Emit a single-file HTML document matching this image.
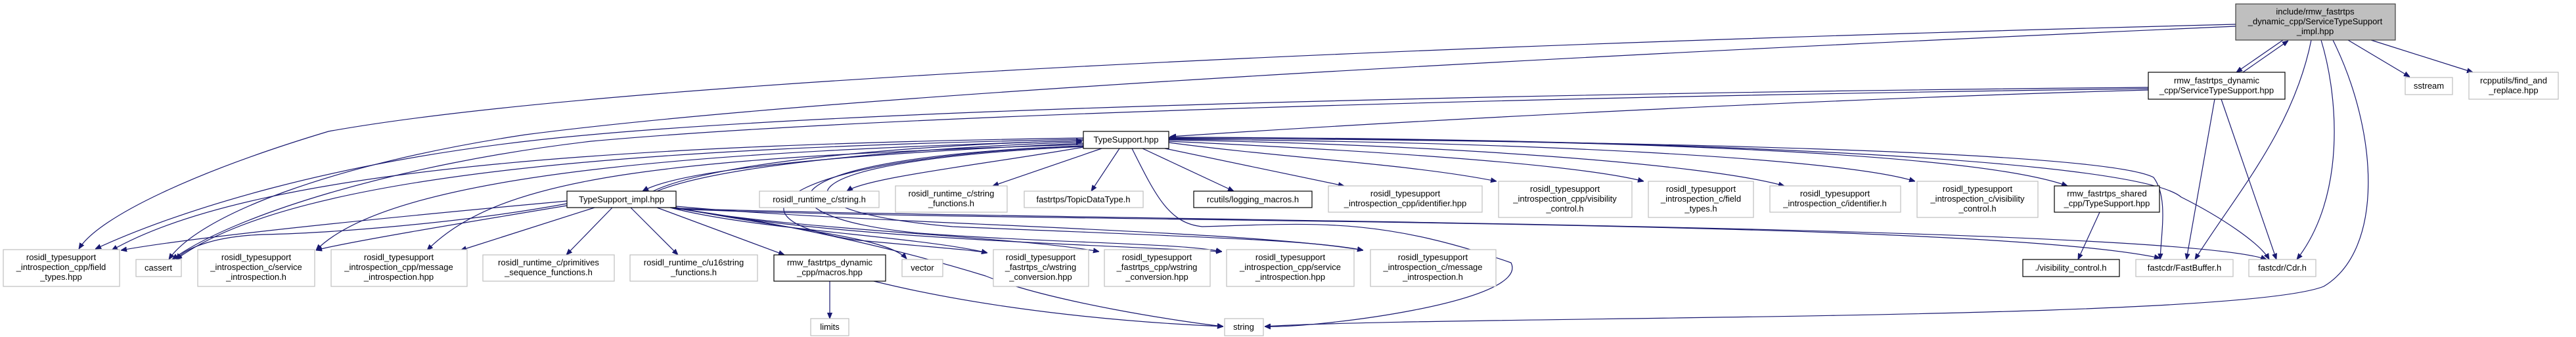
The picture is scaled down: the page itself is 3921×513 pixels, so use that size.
<!DOCTYPE html>
<html><head><meta charset="utf-8"><style>
html,body{margin:0;padding:0;background:#fff;}
svg{display:block;}
text{font-family:"Liberation Sans",sans-serif;font-size:13px;fill:#000;text-anchor:middle;}
.e{fill:none;stroke:#191970;stroke-width:1.2;marker-end:url(#a);}
.g{fill:#fff;stroke:#bfbfbf;stroke-width:1.2;}
.b{fill:#fff;stroke:#000;stroke-width:1.2;}
</style></head><body>
<svg width="3921" height="513" viewBox="0 0 3921 513" xmlns="http://www.w3.org/2000/svg">
<defs><marker id="a" viewBox="0 0 10 10" refX="10" refY="5" markerWidth="9" markerHeight="9" markerUnits="userSpaceOnUse" orient="auto"><path d="M0,1 L10,5 L0,9 z" fill="#191970" stroke="#191970"/></marker></defs>

<!-- edges -->
<path class="e" d="M3475 61 L3404 110"/>
<path class="e" d="M3414 110 L3483 62"/>
<path class="e" d="M3574 61 L3668 117"/>
<path class="e" d="M3609 61 L3764 110"/>
<path class="e" d="M3518 61 C3490 200 3400 300 3341 395"/>
<path class="e" d="M3533 61 C3560 150 3570 300 3496 395"/>
<path class="e" d="M3551 61 C3620 200 3630 380 3537 436 C3400 490 2200 480 1925 497"/>
<path class="e" d="M3403 37 C2500 60 1000 110 500 200 C300 260 150 330 120 379"/>
<path class="e" d="M3403 40 C2500 80 1300 140 800 205 C500 250 300 330 257 395"/>
<path class="e" d="M3270 137 C2800 150 2200 180 1781 208"/>
<path class="e" d="M3270 133 C2500 140 1400 160 900 205 C500 240 250 330 145 379"/>
<path class="e" d="M3270 135 C2500 145 1400 170 900 215 C600 250 350 330 262 395"/>
<path class="e" d="M3371 151 L3328 395"/>
<path class="e" d="M3381 151 L3465 395"/>
<path class="e" d="M1649 218 C1400 230 1050 250 978 291"/>
<path class="e" d="M1000 291 C1100 250 1400 225 1647 216"/>
<path class="e" d="M994 291 C1090 245 1400 220 1647 214"/>
<path class="e" d="M1649 224 C1500 250 1320 270 1289 291"/>
<path class="e" d="M1677 226 L1511 283"/>
<path class="e" d="M1704 226 L1661 291"/>
<path class="e" d="M1739 226 L1878 291"/>
<path class="e" d="M1773 226 L2046 283"/>
<path class="e" d="M1779 217 C1950 240 2150 250 2278 276"/>
<path class="e" d="M1779 215 C2100 230 2400 250 2502 276"/>
<path class="e" d="M1779 213 C2200 220 2600 250 2716 283"/>
<path class="e" d="M1779 212 C2300 215 2800 240 2915 276"/>
<path class="e" d="M1779 211 C2400 210 3000 230 3147 283"/>
<path class="e" d="M1779 210 C2500 215 3200 230 3278 270 C3300 300 3290 350 3288 395"/>
<path class="e" d="M1779 209 C2500 210 3250 240 3320 300 C3380 330 3440 370 3454 395"/>
<path class="e" d="M1723 226 C1760 300 1780 340 1830 345 C2000 340 2100 330 2300 400 C2330 460 2000 500 1925 497"/>
<path class="e" d="M1649 210 C1000 220 400 250 170 381"/>
<path class="e" d="M1649 212 C1000 225 450 260 268 395"/>
<path class="e" d="M1649 214 C1100 230 600 260 481 381"/>
<path class="e" d="M1649 220 C1000 240 760 270 650 381"/>
<path class="e" d="M1649 222 C1200 240 1080 330 1300 365 C1400 375 1480 380 1503 385"/>
<path class="e" d="M1649 222 C1150 240 1140 330 1400 355 C1600 370 1800 370 1860 383"/>
<path class="e" d="M1649 223 C1180 245 1160 320 1450 345 C1800 360 2000 365 2075 381"/>
<path class="e" d="M863 306 C600 330 300 360 184 381"/>
<path class="e" d="M863 310 C700 340 500 355 400 357 C320 360 280 380 268 395"/>
<path class="e" d="M863 313 C700 340 520 370 481 381"/>
<path class="e" d="M905 316 L701 381"/>
<path class="e" d="M932 316 L862 388"/>
<path class="e" d="M960 316 L1032 388"/>
<path class="e" d="M1000 316 L1194 388"/>
<path class="e" d="M1029 316 C1200 350 1350 360 1380 394"/>
<path class="e" d="M1020 316 C1150 350 1400 360 1503 385"/>
<path class="e" d="M1025 316 C1200 350 1550 360 1673 383"/>
<path class="e" d="M1029 316 C1250 360 1600 370 1860 383"/>
<path class="e" d="M1029 314 C1300 340 1900 350 2075 381"/>
<path class="e" d="M1029 318 C1500 340 3000 330 3288 393"/>
<path class="e" d="M1029 317 C1500 335 3300 340 3450 395"/>
<path class="e" d="M1020 316 C1200 340 1370 380 1500 420 C1600 460 1800 490 1862 497"/>
<path class="e" d="M1263 428 L1263 485"/>
<path class="e" d="M1330 428 C1500 470 1700 490 1862 497"/>
<path class="e" d="M3196 323 L3163 395"/>

<!-- nodes -->
<rect x="3403" y="6" width="243" height="55" fill="#bfbfbf" stroke="#404040" stroke-width="1.2"/>
<text x="3524" y="22">include/rmw_fastrtps</text><text x="3524" y="37">_dynamic_cpp/ServiceTypeSupport</text><text x="3524" y="52">_impl.hpp</text>

<rect class="b" x="3270" y="110" width="208" height="41"/>
<text x="3374" y="127">rmw_fastrtps_dynamic</text><text x="3374" y="142">_cpp/ServiceTypeSupport.hpp</text>
<rect class="g" x="3661" y="118" width="72" height="26"/><text x="3697" y="135">sstream</text>
<rect class="g" x="3758" y="110" width="136" height="41"/>
<text x="3826" y="127">rcpputils/find_and</text><text x="3826" y="142">_replace.hpp</text>

<rect class="b" x="1649" y="200" width="130" height="26"/><text x="1714" y="217">TypeSupport.hpp</text>
<rect class="b" x="863" y="291" width="166" height="25"/><text x="946" y="308">TypeSupport_impl.hpp</text>

<rect class="g" x="1156" y="291" width="182" height="25"/><text x="1247" y="308">rosidl_runtime_c/string.h</text>
<rect class="g" x="1363" y="283" width="170" height="40"/><text x="1448" y="299">rosidl_runtime_c/string</text><text x="1448" y="314">_functions.h</text>
<rect class="g" x="1559" y="291" width="181" height="25"/><text x="1649" y="308">fastrtps/TopicDataType.h</text>
<rect class="b" x="1817" y="291" width="180" height="25"/><text x="1907" y="308">rcutils/logging_macros.h</text>
<rect class="g" x="2022" y="283" width="234" height="40"/><text x="2139" y="299">rosidl_typesupport</text><text x="2139" y="314">_introspection_cpp/identifier.hpp</text>
<rect class="g" x="2281" y="276" width="203" height="55"/><text x="2382" y="292">rosidl_typesupport</text><text x="2382" y="307">_introspection_cpp/visibility</text><text x="2382" y="322">_control.h</text>
<rect class="g" x="2509" y="276" width="160" height="55"/><text x="2589" y="292">rosidl_typesupport</text><text x="2589" y="307">_introspection_c/field</text><text x="2589" y="322">_types.h</text>
<rect class="g" x="2694" y="283" width="199" height="40"/><text x="2793" y="299">rosidl_typesupport</text><text x="2793" y="314">_introspection_c/identifier.h</text>
<rect class="g" x="2918" y="276" width="184" height="55"/><text x="3010" y="292">rosidl_typesupport</text><text x="3010" y="307">_introspection_c/visibility</text><text x="3010" y="322">_control.h</text>
<rect class="b" x="3127" y="283" width="160" height="40"/><text x="3207" y="299">rmw_fastrtps_shared</text><text x="3207" y="314">_cpp/TypeSupport.hpp</text>

<rect class="g" x="5" y="380" width="177" height="56"/><text x="93" y="396">rosidl_typesupport</text><text x="93" y="411">_introspection_cpp/field</text><text x="93" y="426">_types.hpp</text>
<rect class="g" x="207" y="395" width="69" height="26"/><text x="241" y="412">cassert</text>
<rect class="g" x="301" y="380" width="178" height="56"/><text x="390" y="396">rosidl_typesupport</text><text x="390" y="411">_introspection_c/service</text><text x="390" y="426">_introspection.h</text>
<rect class="g" x="504" y="380" width="207" height="56"/><text x="607" y="396">rosidl_typesupport</text><text x="607" y="411">_introspection_cpp/message</text><text x="607" y="426">_introspection.hpp</text>
<rect class="g" x="735" y="388" width="200" height="40"/><text x="835" y="404">rosidl_runtime_c/primitives</text><text x="835" y="419">_sequence_functions.h</text>
<rect class="g" x="959" y="388" width="194" height="40"/><text x="1056" y="404">rosidl_runtime_c/u16string</text><text x="1056" y="419">_functions.h</text>
<rect class="b" x="1178" y="388" width="170" height="40"/><text x="1263" y="404">rmw_fastrtps_dynamic</text><text x="1263" y="419">_cpp/macros.hpp</text>
<rect class="g" x="1373" y="395" width="62" height="26"/><text x="1404" y="412">vector</text>
<rect class="g" x="1512" y="380" width="145" height="56"/><text x="1584" y="396">rosidl_typesupport</text><text x="1584" y="411">_fastrtps_c/wstring</text><text x="1584" y="426">_conversion.hpp</text>
<rect class="g" x="1681" y="380" width="161" height="56"/><text x="1761" y="396">rosidl_typesupport</text><text x="1761" y="411">_fastrtps_cpp/wstring</text><text x="1761" y="426">_conversion.hpp</text>
<rect class="g" x="1867" y="380" width="194" height="56"/><text x="1964" y="396">rosidl_typesupport</text><text x="1964" y="411">_introspection_cpp/service</text><text x="1964" y="426">_introspection.hpp</text>
<rect class="g" x="2086" y="380" width="191" height="56"/><text x="2181" y="396">rosidl_typesupport</text><text x="2181" y="411">_introspection_c/message</text><text x="2181" y="426">_introspection.h</text>
<rect class="b" x="3079" y="395" width="147" height="26"/><text x="3152" y="412">./visibility_control.h</text>
<rect class="g" x="3251" y="395" width="148" height="26"/><text x="3325" y="412">fastcdr/FastBuffer.h</text>
<rect class="g" x="3423" y="395" width="102" height="26"/><text x="3474" y="412">fastcdr/Cdr.h</text>

<rect class="g" x="1234" y="485" width="58" height="26"/><text x="1263" y="502">limits</text>
<rect class="g" x="1864" y="485" width="59" height="26"/><text x="1893" y="502">string</text>
</svg>
</body></html>
